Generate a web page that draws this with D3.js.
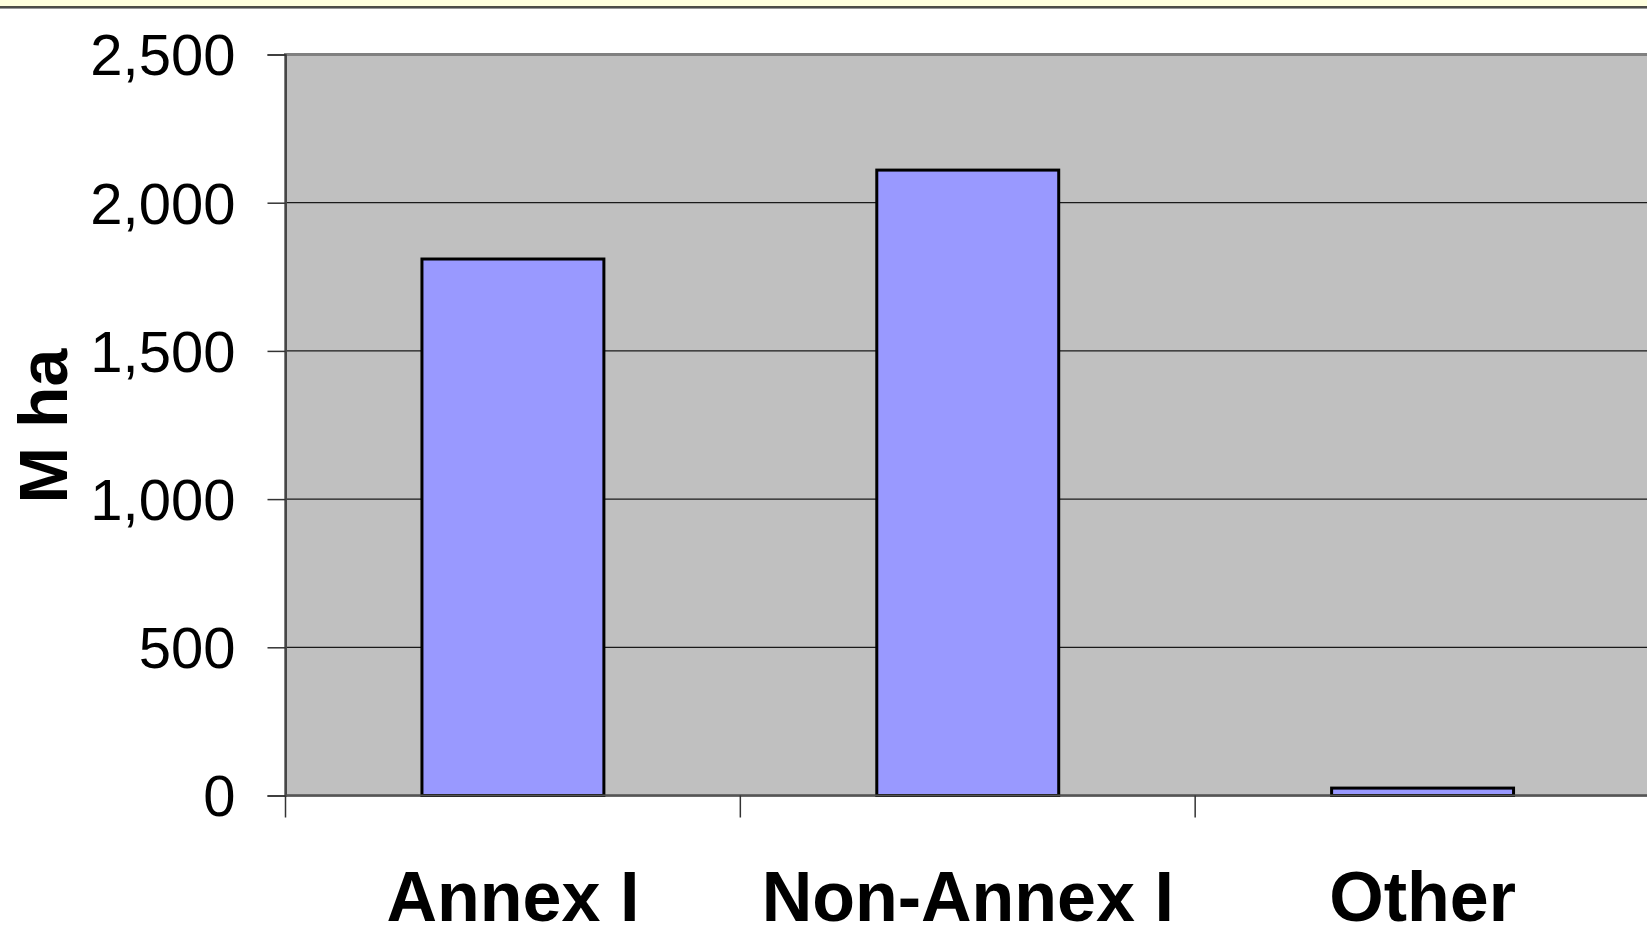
<!DOCTYPE html>
<html>
<head>
<meta charset="utf-8">
<script src="https://cdn.jsdelivr.net/npm/d3@7"></script>
<style>
  html, body { margin: 0; padding: 0; background: #ffffff; }
  svg { display: block; }
</style>
</head>
<body>
<svg id="chart" width="1647" height="926"></svg>
<script>
// Land area by group (million hectares)
const categories = ["Annex I", "Non-Annex I", "Other"];
const values = [1810, 2110, 25];
const yTicks = [0, 500, 1000, 1500, 2000, 2500];
const yLabel = "M ha";

const W = 1647, H = 926;
const svg = d3.select("#chart");

// banner strip along the top edge
svg.append("rect").attr("x", 0).attr("y", 0).attr("width", W).attr("height", 7)
  .attr("fill", "#ffffde");
svg.append("line").attr("x1", 0).attr("x2", W).attr("y1", 7).attr("y2", 7)
  .attr("stroke", "#111").attr("stroke-width", 1.5);
svg.append("line").attr("x1", 0).attr("x2", W).attr("y1", 8.5).attr("y2", 8.5)
  .attr("stroke", "#999").attr("stroke-width", 1);

const plot = { left: 285.5, right: 1650, top: 54.5, bottom: 795.5 };

const x = d3.scaleBand().domain(categories).range([plot.left, plot.right]).padding(0);
const y = d3.scaleLinear().domain([0, 2500]).range([plot.bottom, plot.top]);

// plot background
svg.append("rect")
  .attr("x", plot.left).attr("y", plot.top)
  .attr("width", plot.right - plot.left).attr("height", plot.bottom - plot.top)
  .attr("fill", "#c0c0c0");

// horizontal gridlines
svg.append("g").selectAll("line").data(yTicks.filter(d => d > 0)).join("line")
  .attr("x1", plot.left).attr("x2", plot.right)
  .attr("y1", d => y(d)).attr("y2", d => y(d))
  .attr("stroke", "#1a1a1a").attr("stroke-width", 1.2);

// plot frame
svg.append("rect")
  .attr("x", plot.left).attr("y", plot.top)
  .attr("width", plot.right - plot.left).attr("height", plot.bottom - plot.top)
  .attr("fill", "none").attr("stroke", "#808080").attr("stroke-width", 3);

// bars
const barFrac = 0.40;
svg.append("g").selectAll("rect").data(values).join("rect")
  .attr("x", (d, i) => x(categories[i]) + x.bandwidth() * (1 - barFrac) / 2)
  .attr("width", x.bandwidth() * barFrac)
  .attr("y", d => y(d))
  .attr("height", d => y(0) - y(d))
  .attr("fill", "#9999ff")
  .attr("stroke", "#000").attr("stroke-width", 3);

// y axis
const yAxis = d3.axisLeft(y).tickValues(yTicks).tickSize(18).tickPadding(32)
  .tickFormat(d3.format(","));
const gy = svg.append("g").attr("transform", `translate(${plot.left},0)`).call(yAxis);
gy.select(".domain").attr("stroke", "#333").attr("stroke-width", 1.5);
gy.selectAll(".tick line").attr("stroke", "#333").attr("stroke-width", 1.5);
gy.selectAll(".tick text")
  .attr("font-family", "'Liberation Sans', Arial, sans-serif")
  .attr("font-size", 58).attr("fill", "#000")
  .attr("dy", "0.35em");

// zero baseline
svg.append("line").attr("x1", plot.left).attr("x2", plot.right)
  .attr("y1", y(0)).attr("y2", y(0))
  .attr("stroke", "#555").attr("stroke-width", 2);

// category tick marks at band boundaries
svg.append("g").selectAll("line").data(categories).join("line")
  .attr("x1", d => x(d)).attr("x2", d => x(d))
  .attr("y1", y(0)).attr("y2", y(0) + 22)
  .attr("stroke", "#333").attr("stroke-width", 1.5);

// category labels
svg.append("g").selectAll("text").data(categories).join("text")
  .attr("x", d => x(d) + x.bandwidth() / 2)
  .attr("y", 921)
  .attr("text-anchor", "middle")
  .attr("font-family", "'Liberation Sans', Arial, sans-serif")
  .attr("font-weight", "bold")
  .attr("font-size", 70)
  .attr("fill", "#000")
  .text(d => d);

// y axis title
svg.append("text")
  .attr("transform", "translate(67,426) rotate(-90)")
  .attr("text-anchor", "middle")
  .attr("font-family", "'Liberation Sans', Arial, sans-serif")
  .attr("font-weight", "bold")
  .attr("font-size", 68)
  .attr("fill", "#000")
  .text(yLabel);
</script>
</body>
</html>
